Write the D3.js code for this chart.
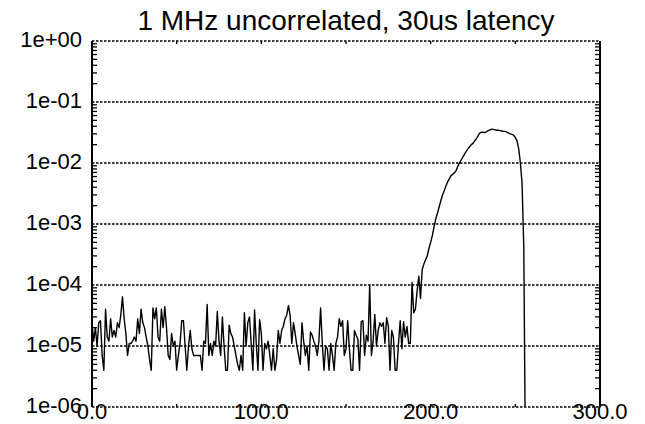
<!DOCTYPE html>
<html>
<head>
<meta charset="utf-8">
<script src="https://cdn.jsdelivr.net/npm/d3@7"></script>
<style>
  html, body { margin: 0; padding: 0; background: #fff; }
  svg { display: block; font-family: "Liberation Sans", Arial, sans-serif; }
  .grid line { stroke: #000; stroke-width: 1.3; stroke-dasharray: 2.5,1.5; }
  .lbl { font-size: 22px; fill: #000; }
</style>
</head>
<body>
<svg id="chart" width="645" height="424"></svg>
<script>
/* log-scale histogram: noise floor then the latency bump near 200-256 */
const title = '1 MHz uncorrelated, 30us latency';
const xTicks = [0, 100, 200, 300];
const yTicks = [1e0, 1e-1, 1e-2, 1e-3, 1e-4, 1e-5, 1e-6];
const yTickLabels = ['1e+00', '1e-01', '1e-02', '1e-03', '1e-04', '1e-05', '1e-06'];

// x = 0 .. 188 (noise floor)
const noise = [
  2.4e-5, 1.2e-5, 2e-5, 1e-5, 2.4e-5, 2.6e-5, 7e-6, 4e-6, 4e-5, 1.4e-5,
  1.2e-5, 2.8e-5, 1.4e-5, 1.8e-5, 1.4e-5, 2.4e-5, 2e-5, 3.2e-5, 6.4e-5, 2.8e-5,
  1.6e-5, 7e-6, 1.1e-5, 1.1e-5, 1.2e-5, 1.4e-5, 1.2e-5, 2.8e-5, 1.6e-5, 4e-5,
  2.4e-5, 2e-5, 1.4e-5, 1e-5, 6e-6, 4e-6, 4.2e-5, 2.8e-5, 4.2e-5, 1.4e-5,
  1.2e-5, 4e-5, 2e-5, 4.4e-5, 2e-5, 7e-6, 6e-6, 1.6e-5, 1e-5, 1.2e-5,
  4e-6, 7e-6, 1.1e-5, 2.6e-5, 2.6e-5, 1e-5, 4e-6, 1e-5, 1.8e-5, 9e-6,
  7e-6, 7e-6, 7e-6, 7e-6, 7e-6, 4e-6, 1.2e-5, 1.1e-5, 4.8e-5, 7e-6,
  1.1e-5, 7e-6, 1.2e-5, 1e-5, 3.7e-5, 1.2e-5, 7e-6, 3e-5, 1e-5, 4e-6,
  4e-6, 2.2e-5, 1.6e-5, 1.4e-5, 1e-5, 7e-6, 5e-6, 4e-6, 7e-6, 4e-6,
  3.5e-5, 1e-5, 2.4e-5, 3e-5, 1.1e-5, 4e-6, 3.9e-5, 1.1e-5, 4e-6, 2.7e-5,
  1.6e-5, 4e-6, 1.1e-5, 9e-6, 1.2e-5, 7e-6, 4e-6, 9e-6, 4e-6, 6e-6,
  1.8e-5, 1.1e-5, 1.8e-5, 2.1e-5, 2.8e-5, 3.2e-5, 4.6e-5, 3.2e-5, 1.1e-5, 2.4e-5,
  1.6e-5, 1e-5, 7e-6, 5e-6, 2.4e-5, 1.2e-5, 7e-6, 1e-5, 4e-6, 1.7e-5,
  1.5e-5, 1.2e-5, 1e-5, 7e-6, 1.2e-5, 4.2e-5, 1.1e-5, 4e-6, 1e-5, 9e-6,
  4e-6, 1.1e-5, 7e-6, 4e-6, 1.1e-5, 1.4e-5, 2.8e-5, 2.1e-5, 2.6e-5, 7e-6,
  9e-6, 2.6e-5, 9e-6, 4e-6, 4e-6, 1.8e-5, 1.5e-5, 1.3e-5, 4e-6, 2.5e-5,
  2.6e-5, 7e-6, 1.5e-5, 1.2e-5, 1e-4, 7e-6, 1.2e-5, 3.3e-5, 1e-5, 1.8e-5,
  2.4e-5, 2.1e-5, 2.4e-5, 1.1e-5, 2.9e-5, 2.1e-5, 4e-6, 1.8e-5, 1.4e-5, 4e-6,
  4e-6, 1.1e-5, 2.6e-5, 9e-6, 2.5e-5, 1.4e-5, 2.1e-5, 1.1e-5, 1.1e-5
];
// x = 189 .. 256 (the bump and the cut-off)
const bump = [
  1.1e-4, 3.5e-5, 4e-5, 8e-5, 1.4e-4, 6e-5, 1.8e-4, 2.2e-4, 2.6e-4, 3e-4,
  4e-4, 5e-4, 6.5e-4, 9e-4, 1.2e-3, 1.5e-3, 1.9e-3, 2.4e-3, 3e-3, 3.5e-3,
  4.2e-3, 4.9e-3, 5.5e-3, 6.2e-3, 6.5e-3, 6.9e-3, 7.5e-3, 8.8e-3, 1e-2, 1.12e-2,
  1.25e-2, 1.4e-2, 1.55e-2, 1.7e-2, 1.85e-2, 2e-2, 2.1e-2, 2.3e-2, 2.5e-2, 2.8e-2,
  3.1e-2, 3.2e-2, 3.2e-2, 3.15e-2, 3.25e-2, 3.4e-2, 3.5e-2, 3.6e-2, 3.55e-2, 3.5e-2,
  3.45e-2, 3.45e-2, 3.4e-2, 3.35e-2, 3.3e-2, 3.3e-2, 3.2e-2, 3.1e-2, 3e-2, 2.95e-2,
  2.85e-2, 2.6e-2, 2.3e-2, 1.7e-2, 1e-2, 4.5e-3, 4e-4, 1e-7
];

const values = noise.concat(bump);
const M = { t: 41, r: 45, b: 17, l: 92 };
const W = 645, H = 424;

const svg = d3.select('#chart');
const x = d3.scaleLinear().domain([0, 300]).range([M.l, W - M.r]);
const y = d3.scaleLog().domain([1e-6, 1]).range([H - M.b, M.t]);

svg.append('defs').append('clipPath').attr('id', 'plot')
  .append('rect').attr('x', M.l).attr('y', M.t)
  .attr('width', x(300) - M.l).attr('height', y(1e-6) - M.t);

// dotted decade grid (also serves as top and bottom border)
svg.append('g').attr('class', 'grid').selectAll('line').data(yTicks).join('line')
  .attr('x1', x(0)).attr('x2', x(300)).attr('y1', d => y(d)).attr('y2', d => y(d));

// minor log ticks, inward on both side axes
const minor = [];
for (let e = -6; e < 0; e++) for (let m = 2; m <= 9; m++) minor.push(m * Math.pow(10, e));
const tk = svg.append('g').attr('stroke', '#000').attr('stroke-width', 1.3);
minor.forEach(v => {
  tk.append('line').attr('x1', x(0)).attr('x2', x(0) + 5).attr('y1', y(v)).attr('y2', y(v));
  tk.append('line').attr('x1', x(300)).attr('x2', x(300) - 5).attr('y1', y(v)).attr('y2', y(v));
});
// small x ticks top + bottom
d3.range(0, 301, 50).forEach(v => {
  tk.append('line').attr('x1', x(v)).attr('x2', x(v)).attr('y1', y(1e-6)).attr('y2', y(1e-6) - 3);
  tk.append('line').attr('x1', x(v)).attr('x2', x(v)).attr('y1', y(1)).attr('y2', y(1) + 3);
});

// solid side axes
svg.append('g').attr('stroke', '#000').attr('stroke-width', 2).selectAll('line')
  .data([0, 300]).join('line')
  .attr('x1', d => x(d)).attr('x2', d => x(d)).attr('y1', y(1)).attr('y2', y(1e-6));

// data line
const line = d3.line().x((d, i) => x(i)).y(d => y(d));
svg.append('path').datum(values)
  .attr('clip-path', 'url(#plot)')
  .attr('fill', 'none').attr('stroke', '#000').attr('stroke-width', 1.4)
  .attr('stroke-linejoin', 'round')
  .attr('d', line);

// labels
svg.append('g').selectAll('text').data(yTicks).join('text')
  .attr('class', 'lbl').attr('x', M.l - 10).attr('y', d => y(d) - 2)
  .attr('dy', '0.35em').attr('text-anchor', 'end')
  .text((d, i) => yTickLabels[i]);

svg.append('g').selectAll('text').data(xTicks).join('text')
  .attr('class', 'lbl').attr('x', d => x(d)).attr('y', H - 5)
  .attr('text-anchor', 'middle').text(d => d.toFixed(1));

svg.append('text').attr('x', (x(0) + x(300)) / 2).attr('y', 30)
  .attr('text-anchor', 'middle').style('font-size', '28px').text(title);
</script>
</body>
</html>
